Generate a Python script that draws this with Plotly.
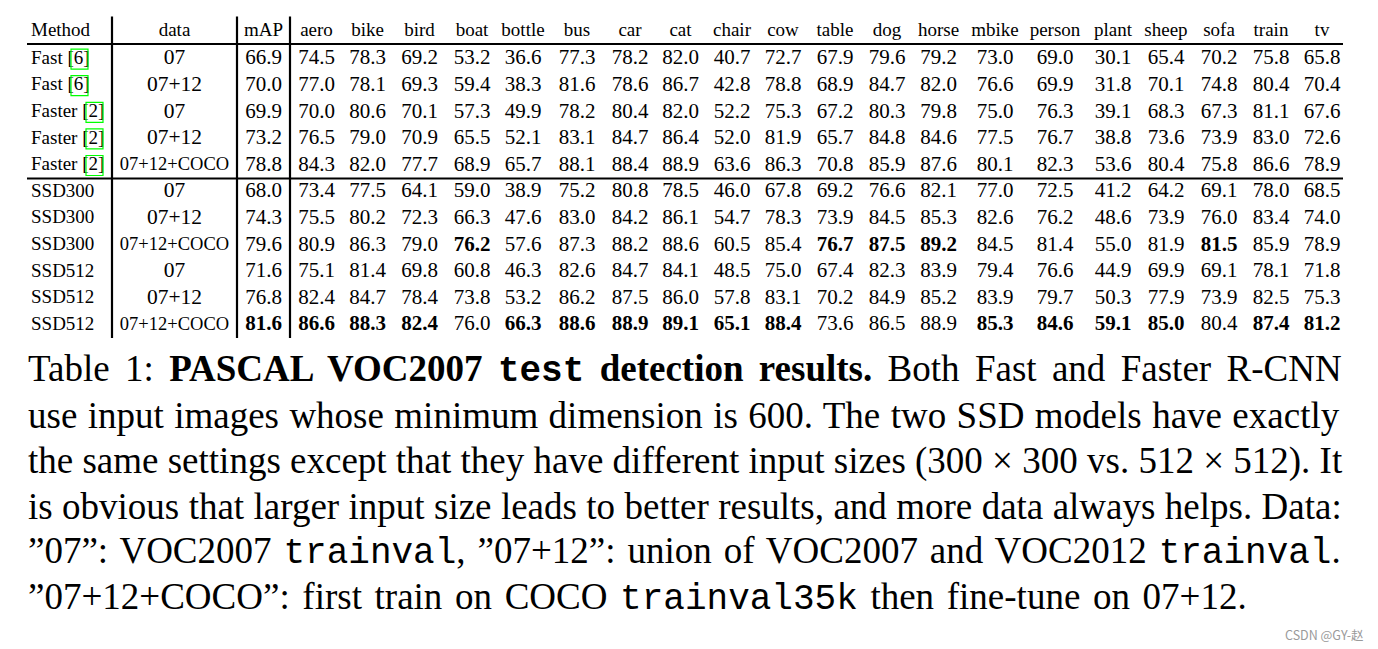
import plotly.graph_objects as go

# ---------------- data ----------------
methods = ["Fast [6]", "Fast [6]", "Faster [2]", "Faster [2]", "Faster [2]",
           "SSD300", "SSD300", "SSD300", "SSD512", "SSD512", "SSD512"]
train_data = ["07", "07+12", "07", "07+12", "07+12+COCO",
              "07", "07+12", "07+12+COCO", "07", "07+12", "07+12+COCO"]
classes = ["aero", "bike", "bird", "boat", "bottle", "bus", "car", "cat", "chair", "cow",
           "table", "dog", "horse", "mbike", "person", "plant", "sheep", "sofa", "train", "tv"]
mAP = [66.9, 70.0, 69.9, 73.2, 78.8, 68.0, 74.3, 79.6, 71.6, 76.8, 81.6]

ap_fast_07 = [74.5, 78.3, 69.2, 53.2, 36.6, 77.3, 78.2, 82.0, 40.7, 72.7, 67.9, 79.6, 79.2, 73.0, 69.0, 30.1, 65.4, 70.2, 75.8, 65.8]
ap_fast_0712 = [77.0, 78.1, 69.3, 59.4, 38.3, 81.6, 78.6, 86.7, 42.8, 78.8, 68.9, 84.7, 82.0, 76.6, 69.9, 31.8, 70.1, 74.8, 80.4, 70.4]
ap_faster_07 = [70.0, 80.6, 70.1, 57.3, 49.9, 78.2, 80.4, 82.0, 52.2, 75.3, 67.2, 80.3, 79.8, 75.0, 76.3, 39.1, 68.3, 67.3, 81.1, 67.6]
ap_faster_0712 = [76.5, 79.0, 70.9, 65.5, 52.1, 83.1, 84.7, 86.4, 52.0, 81.9, 65.7, 84.8, 84.6, 77.5, 76.7, 38.8, 73.6, 73.9, 83.0, 72.6]
ap_faster_coco = [84.3, 82.0, 77.7, 68.9, 65.7, 88.1, 88.4, 88.9, 63.6, 86.3, 70.8, 85.9, 87.6, 80.1, 82.3, 53.6, 80.4, 75.8, 86.6, 78.9]
ap_ssd300_07 = [73.4, 77.5, 64.1, 59.0, 38.9, 75.2, 80.8, 78.5, 46.0, 67.8, 69.2, 76.6, 82.1, 77.0, 72.5, 41.2, 64.2, 69.1, 78.0, 68.5]
ap_ssd300_0712 = [75.5, 80.2, 72.3, 66.3, 47.6, 83.0, 84.2, 86.1, 54.7, 78.3, 73.9, 84.5, 85.3, 82.6, 76.2, 48.6, 73.9, 76.0, 83.4, 74.0]
ap_ssd300_coco = [80.9, 86.3, 79.0, 76.2, 57.6, 87.3, 88.2, 88.6, 60.5, 85.4, 76.7, 87.5, 89.2, 84.5, 81.4, 55.0, 81.9, 81.5, 85.9, 78.9]
ap_ssd512_07 = [75.1, 81.4, 69.8, 60.8, 46.3, 82.6, 84.7, 84.1, 48.5, 75.0, 67.4, 82.3, 83.9, 79.4, 76.6, 44.9, 69.9, 69.1, 78.1, 71.8]
ap_ssd512_0712 = [82.4, 84.7, 78.4, 73.8, 53.2, 86.2, 87.5, 86.0, 57.8, 83.1, 70.2, 84.9, 85.2, 83.9, 79.7, 50.3, 77.9, 73.9, 82.5, 75.3]
ap_ssd512_coco = [86.6, 88.3, 82.4, 76.0, 66.3, 88.6, 88.9, 89.1, 65.1, 88.4, 73.6, 86.5, 88.9, 85.3, 84.6, 59.1, 85.0, 80.4, 87.4, 81.2]

ap_rows = [ap_fast_07, ap_fast_0712, ap_faster_07, ap_faster_0712, ap_faster_coco,
           ap_ssd300_07, ap_ssd300_0712, ap_ssd300_coco, ap_ssd512_07, ap_ssd512_0712, ap_ssd512_coco]

# ---------------- layout constants ----------------
W, H = 1378, 649
PAGE_OFFSET = 8  # default body margin of the html page
SERIF = "Liberation Serif"
MONO = "Liberation Mono"
row0_y, row_step = 32.5, 26.6
header_y = 31
row_y = [row0_y + row_step * (i + 1) for i in range(len(methods))]
method_x = 31
data_x = 174.5
map_x = 263.5
class_x = [316.5, 367.5, 419.5, 472, 523, 577, 630, 680.5, 732, 783, 835, 887,
           938.5, 995, 1055, 1113, 1166, 1219, 1271, 1322]
table_left, table_right = 27, 1343
vlines_x = [112, 237, 290]
vline_top, vline_bottom = 16.5, 338
hline_ys = [44, 178.5]

HDR_SIZE = 19
VAL_SIZE = 21
METHOD_SIZE = 19
DATA_SIZE = 21.5
DATA_SMALL = 18.5

fig = go.Figure()

# header
hdr_x = [data_x, map_x] + class_x
hdr_t = ["data", "mAP"] + classes
fig.add_trace(go.Scatter(x=hdr_x, y=[header_y] * len(hdr_x), text=hdr_t, mode="text",
                         textposition="middle center",
                         textfont=dict(family=SERIF, size=HDR_SIZE, color="black"),
                         hoverinfo="skip", showlegend=False))
fig.add_trace(go.Scatter(x=[method_x], y=[header_y], text=["Method"], mode="text",
                         textposition="middle right",
                         textfont=dict(family=SERIF, size=HDR_SIZE, color="black"),
                         hoverinfo="skip", showlegend=False))

# method column
fig.add_trace(go.Scatter(x=[method_x] * len(methods), y=row_y, text=methods, mode="text",
                         textposition="middle right",
                         textfont=dict(family=SERIF, size=METHOD_SIZE, color="black"),
                         hoverinfo="skip", showlegend=False))

# data column
fig.add_trace(go.Scatter(x=[data_x] * len(train_data), y=row_y, text=train_data, mode="text",
                         textposition="middle center",
                         textfont=dict(family=SERIF,
                                       size=[DATA_SMALL if "COCO" in d else DATA_SIZE for d in train_data],
                                       color="black"),
                         hoverinfo="skip", showlegend=False))

# value columns (mAP + classes); best value per column in bold
cols = [mAP] + [[r[j] for r in ap_rows] for j in range(len(classes))]
cols_x = [map_x] + class_x
vx, vy, vt = [], [], []
for cx, col in zip(cols_x, cols):
    best = max(col)
    for yy, v in zip(row_y, col):
        s = f"{v:.1f}"
        vx.append(cx)
        vy.append(yy)
        vt.append(f"<b>{s}</b>" if v == best else s)
fig.add_trace(go.Scatter(x=vx, y=vy, text=vt, mode="text", textposition="middle center",
                         textfont=dict(family=SERIF, size=VAL_SIZE, color="black"),
                         hoverinfo="skip", showlegend=False))

# rules
shapes = []
for hy in hline_ys:
    shapes.append(dict(type="line", x0=table_left, x1=table_right, y0=hy, y1=hy,
                       xref="x", yref="y", line=dict(color="black", width=2.2)))
for vx_ in vlines_x:
    shapes.append(dict(type="line", x0=vx_, x1=vx_, y0=vline_top, y1=vline_bottom,
                       xref="x", yref="y", line=dict(color="black", width=2.2)))
# green citation boxes
for i, m in enumerate(methods):
    if "[6]" in m:
        bx0, bx1 = 71, 88
    elif "[2]" in m:
        bx0, bx1 = 86, 103
    else:
        continue
    shapes.append(dict(type="rect", x0=bx0, x1=bx1, y0=row_y[i] - 10, y1=row_y[i] + 10,
                       xref="x", yref="y", line=dict(color="#00ff00", width=1.2)))

# caption (justified lines emulated with word spacing)
CAP_SIZE = 37


def mono(s, bold=False):
    inner = f"<b>{s}</b>" if bold else s
    return f'<span style="font-family:{MONO};font-size:36px">{inner}</span>'


cap_lines = [
    "Table 1: <b>PASCAL VOC2007 </b>" + mono("test", True) + "<b> detection results.</b> Both Fast and Faster R-CNN",
    "use input images whose minimum dimension is 600. The two SSD models have exactly",
    "the same settings except that they have different input sizes (300 × 300 vs. 512 × 512). It",
    "is obvious that larger input size leads to better results, and more data always helps. Data:",
    "”07”: VOC2007 " + mono("trainval") + ", ”07+12”: union of VOC2007 and VOC2012 " + mono("trainval") + ".",
    "”07+12+COCO”: first train on COCO " + mono("trainval35k") + " then fine-tune on 07+12.",
]
cap_word_spacing = [6.1, 1.15, 0, 0.15, 2.7, 3.4]
cap_y0, cap_step = 370, 45.6
annotations = []
for i, line in enumerate(cap_lines):
    txt = f'<span style="word-spacing:{cap_word_spacing[i]}px">{line}</span>'
    annotations.append(dict(x=26, y=cap_y0 + cap_step * i, xref="x", yref="y", text=txt,
                            showarrow=False, xanchor="left", yanchor="middle",
                            font=dict(family=SERIF, size=CAP_SIZE, color="black")))
annotations.append(dict(x=1366, y=634, xref="x", yref="y", text="CSDN @GY-赵",
                        showarrow=False, xanchor="right", yanchor="middle",
                        font=dict(family="Noto Sans CJK SC", size=12.5, color="#9a9a9a")))

fig.update_layout(
    width=W, height=H, margin=dict(l=0, r=0, t=0, b=0),
    paper_bgcolor="white", plot_bgcolor="white",
    xaxis=dict(range=[PAGE_OFFSET, W + PAGE_OFFSET], visible=False, fixedrange=True),
    yaxis=dict(range=[H + PAGE_OFFSET, PAGE_OFFSET], visible=False, fixedrange=True),
    shapes=shapes, annotations=annotations, showlegend=False,
)

fig.write_html("out.html")
